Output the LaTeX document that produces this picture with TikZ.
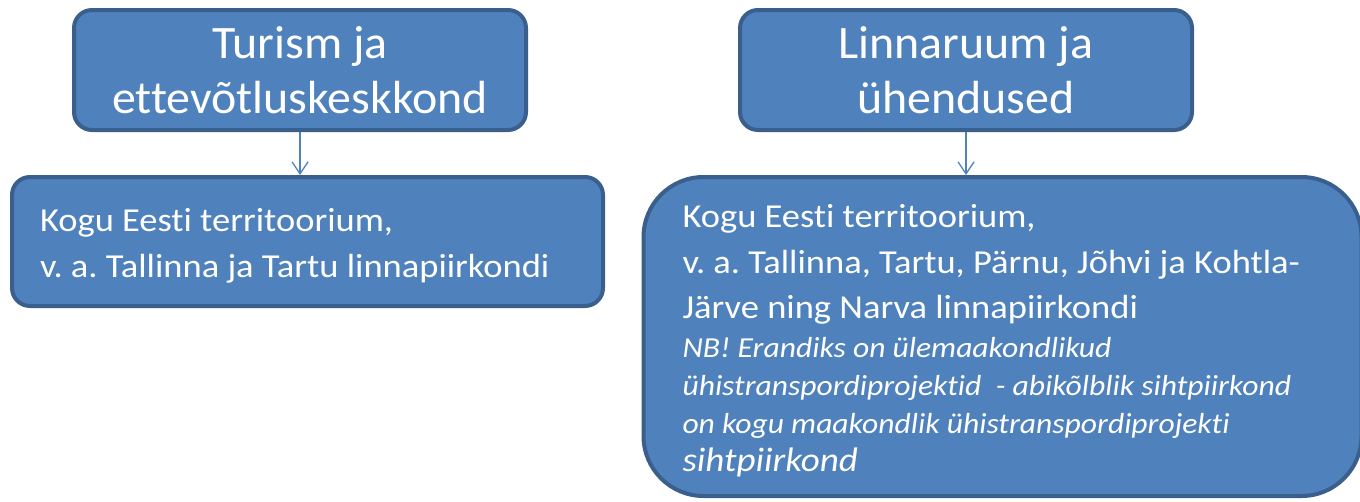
\documentclass[tikz,border=0pt]{standalone}
\usepackage{fontspec}
\setmainfont{Carlito}[Ligatures=NoCommon, FakeStretch=1.03]
\newfontfamily\sisu{Carlito}[Ligatures=NoCommon, FakeStretch=1.09]
\usetikzlibrary{arrows.meta}
\definecolor{boxfill}{HTML}{4F81BD}
\definecolor{boxline}{HTML}{3A5F8C}
\tikzset{
  blok/.style={draw=boxline, line width=4pt, fill=boxfill, text=white,
    rounded corners=18pt},
  pealkiri/.style={blok, minimum width=452pt, minimum height=120pt,
    align=center, font=\fontsize{46.5}{55}\selectfont},
  sisutekst/.style={blok, align=left,
    execute at begin node={\sisu\frenchspacing\spaceskip=0pt\xspaceskip=0pt}},
  nool/.style={draw=boxfill, line width=1.3pt,
    -{Straight Barb[length=12pt,width=16pt,line width=1.3pt]}}
}
\begin{document}
\begin{tikzpicture}[x=1pt,y=-1pt]
  \useasboundingbox (0,0) rectangle (1360,501);
  \node[pealkiri] (turism) at (300,70) {Turism ja\\ettev\~otluskeskkond};
  \node[pealkiri] (linn) at (966,70) {Linnaruum ja\\\"uhendused};
  \node[sisutekst, minimum width=591pt, minimum height=129pt, text width=535pt,
    inner xsep=28pt]
    (eesti1) at (307.5,241.5)
    {\fontsize{33.5}{46}\selectfont
     \rule{0pt}{32pt}Kogu Eesti territoorium,\par
     v. a. Tallinna ja Tartu linnapiirkondi\par};
  \node[sisutekst, rounded corners=60pt, minimum width=712pt, minimum height=319pt,
    text width=640pt, inner xsep=39pt, inner ysep=0pt]
    (eesti2) at (1002.5,336.5)
    {\fontsize{33.5}{46}\selectfont \rule{0pt}{32pt}Kogu Eesti territoorium,\par
     \fontsize{33.5}{46}\selectfont v. a. Tallinna, Tartu, P\"arnu, J\~ohvi ja Kohtla-\par
     \fontsize{33.5}{45}\selectfont J\"arve ning Narva linnapiirkondi\par
     \fontsize{29}{39}\selectfont\itshape NB! Erandiks on \"ulemaakondlikud\par
     \fontsize{29}{38}\selectfont\itshape \"uhistranspordiprojektid\ \ - abik\~olblik sihtpiirkond\par
     \fontsize{29}{38}\selectfont\itshape on kogu maakondlik \"uhistranspordiprojekti\par
     \fontsize{34}{38}\selectfont\itshape sihtpiirkond\par};
  \draw[nool] (turism.south) -- (turism.south |- eesti1.north);
  \draw[nool] (linn.south) -- (linn.south |- eesti2.north);
\end{tikzpicture}
\end{document}
